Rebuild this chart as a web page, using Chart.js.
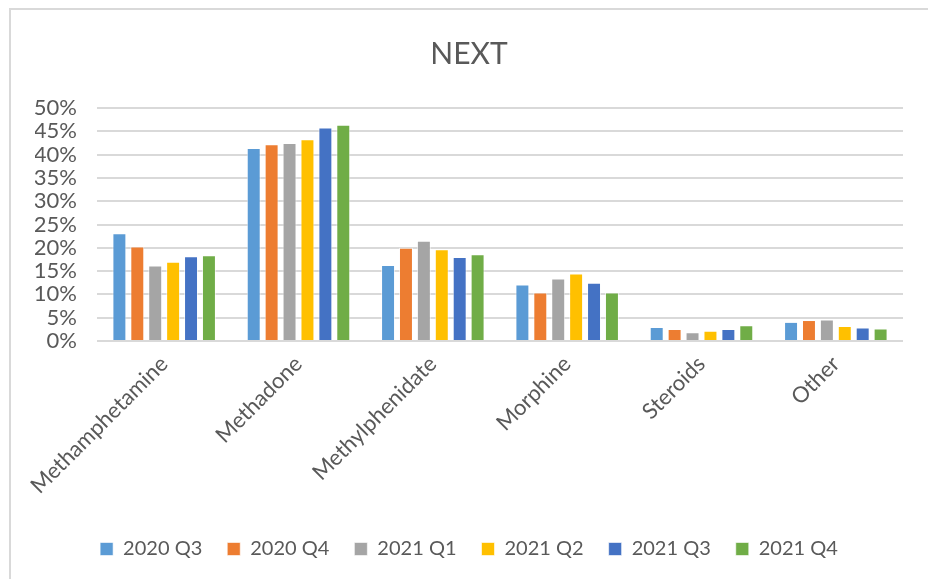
<!DOCTYPE html>
<html lang="en">
<head>
    <meta charset="UTF-8">
    <title>NEXT</title>
    <script src="https://cdn.jsdelivr.net/npm/chart.js"></script>
    <style>
        body {
            margin: 0;
            background: #fff;
            overflow: hidden;
        }

        #frame {
            position: absolute;
            left: 9px;
            top: 8px;
            width: 1000px;
            height: 1000px;
            border-left: 2px solid #d9d9d9;
            border-top: 2px solid #d9d9d9;
        }

        #nextChart {
            position: absolute;
            left: 0;
            top: 0;
        }
    </style>
</head>
<body>
    <div id="frame"></div>
    <canvas id="nextChart" width="928" height="579"></canvas>

    <script>
        const categories = ['Methamphetamine', 'Methadone', 'Methylphenidate', 'Morphine', 'Steroids', 'Other'];
        const seriesNames = ['2020 Q3', '2020 Q4', '2021 Q1', '2021 Q2', '2021 Q3', '2021 Q4'];

        // percent values per quarter, one number per category
        const q3_2020 = [23.1, 41.4, 16.3, 12.1, 3.0, 4.1];
        const q4_2020 = [20.3, 42.2, 20.0, 10.4, 2.6, 4.5];
        const q1_2021 = [16.2, 42.5, 21.5, 13.4, 1.9, 4.6];
        const q2_2021 = [17.0, 43.3, 19.7, 14.5, 2.2, 3.2];
        const q3_2021 = [18.2, 45.8, 18.0, 12.5, 2.6, 2.9];
        const q4_2021 = [18.4, 46.4, 18.6, 10.4, 3.4, 2.7];

        const yTicks = [0, 5, 10, 15, 20, 25, 30, 35, 40, 45, 50];

        const seriesData = [q3_2020, q4_2020, q1_2021, q2_2021, q3_2021, q4_2021];
        const barColors = ['#5B9BD5', '#ED7D31', '#A5A5A5', '#FFC000', '#4472C4', '#70AD47'];
        const textColor = '#595959';
        const fontName = 'Lato, "Open Sans", sans-serif';

        const datasets = seriesNames.map((name, i) => ({
            label: name,
            data: seriesData[i],
            backgroundColor: barColors[i],
            borderColor: 'rgba(255,255,255,0.6)',
            borderWidth: 1,
            barPercentage: 0.78,
            categoryPercentage: 0.8
        }));

        const ctx = document.getElementById('nextChart').getContext('2d');
        new Chart(ctx, {
            type: 'bar',
            data: {
                labels: categories,
                datasets: datasets
            },
            options: {
                responsive: false,
                animation: false,
                layout: {
                    // left room so title/legend centre like the original
                    padding: { top: 36, left: 35, right: 25, bottom: 10 }
                },
                plugins: {
                    title: {
                        display: true,
                        text: 'NEXT',
                        color: textColor,
                        font: { family: fontName, size: 30, weight: 'normal' },
                        padding: { top: 0, bottom: 36 }
                    },
                    legend: {
                        position: 'bottom',
                        labels: {
                            color: textColor,
                            font: { family: fontName, size: 20 },
                            boxWidth: 13,
                            boxHeight: 13,
                            padding: 25
                        }
                    },
                    tooltip: { enabled: false }
                },
                scales: {
                    x: {
                        grid: { display: false },
                        border: { display: false },
                        ticks: {
                            color: textColor,
                            font: { family: fontName, size: 22 },
                            maxRotation: 45,
                            minRotation: 45,
                            padding: 2
                        },
                        afterFit: (scale) => { scale.height = 173; }
                    },
                    y: {
                        min: 0,
                        max: 50,
                        afterBuildTicks: (scale) => {
                            scale.ticks = yTicks.map(v => ({ value: v }));
                        },
                        grid: { color: '#d9d9d9', lineWidth: 2, drawTicks: false },
                        border: { display: false },
                        ticks: {
                            color: textColor,
                            font: { family: fontName, size: 22 },
                            padding: 20,
                            autoSkip: false,
                            callback: (v) => v + '%'
                        },
                        afterFit: (scale) => { scale.width = 62; }
                    }
                }
            }
        });
    </script>
</body>
</html>
